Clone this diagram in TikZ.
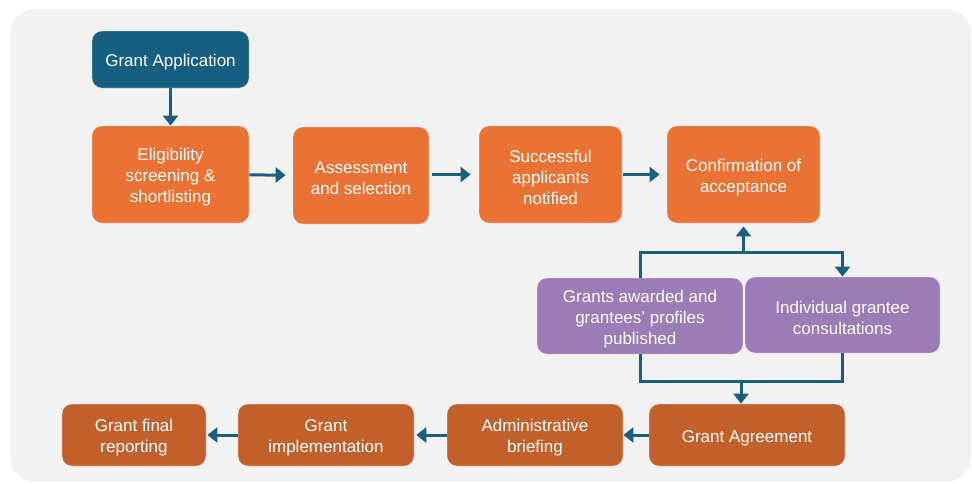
\documentclass[tikz,border=0pt]{standalone}
\usepackage{fontspec}
\setmainfont{Liberation Sans}
\usetikzlibrary{arrows.meta,calc}
\definecolor{panel}{RGB}{242,242,242}
\definecolor{tealbox}{RGB}{23,95,128}
\definecolor{orangebox}{RGB}{233,114,52}
\definecolor{darkorange}{RGB}{193,96,42}
\definecolor{purplebox}{RGB}{155,124,182}
\definecolor{arrowcol}{RGB}{26,95,126}
\tikzset{
  box/.style={rounded corners=10pt, inner sep=0pt, draw=white, draw opacity=0.35, line width=0.8pt},
  txt/.style={text=white, align=center, inner sep=0pt, yshift=-3pt,
    font=\fontsize{17}{21}\selectfont},
  topbox/.style={box, fill=tealbox},
  obox/.style={box, fill=orangebox},
  dbox/.style={box, fill=darkorange},
  pbox/.style={box, fill=purplebox},
  conn/.style={draw=arrowcol, line width=3pt},
  arr/.style={conn, -{Triangle[width=15pt,length=10pt]}}
}
\begin{document}
\begin{tikzpicture}[x=1pt,y=-1pt]
\useasboundingbox (0,0) rectangle (972,483);
\fill[panel, rounded corners=25pt] (10,9) rectangle (971,482);
% top row
\node[topbox, minimum width=157pt, minimum height=57pt, label={[txt]center:{Grant Application}}] (app) at (170.5,59.5) {};
\node[obox, minimum width=157pt, minimum height=97pt, label={[txt]center:{Eligibility\\screening \&\\shortlisting}}] (elig) at (170.5,174.5) {};
\node[obox, minimum width=136pt, minimum height=97pt, label={[txt]center:{Assessment\\and selection}}] (assess) at (361,175.5) {};
\node[obox, minimum width=143pt, minimum height=97pt, label={[txt]center:{Successful\\applicants\\notified}}] (succ) at (550.5,174.5) {};
\node[obox, minimum width=153pt, minimum height=97pt, label={[txt]center:{Confirmation of\\acceptance}}] (conf) at (743.5,174.5) {};
% purple
\node[pbox, minimum width=206pt, minimum height=76pt, label={[txt]center:{Grants awarded and\\grantees’ profiles\\published}}] (pub) at (640,316) {};
\node[pbox, minimum width=195pt, minimum height=76pt, label={[txt]center:{Individual grantee\\consultations}}] (ind) at (842.5,315) {};
% bottom row
\node[dbox, minimum width=196pt, minimum height=62pt, label={[txt]center:{Grant Agreement}}] (agr) at (747,435) {};
\node[dbox, minimum width=176pt, minimum height=62pt, label={[txt]center:{Administrative\\briefing}}] (adm) at (535,435) {};
\node[dbox, minimum width=176pt, minimum height=62pt, label={[txt]center:{Grant\\implementation}}] (impl) at (326,435) {};
\node[dbox, minimum width=144pt, minimum height=62pt, label={[txt]center:{Grant final\\reporting}}] (fin) at (134,435) {};
% connectors
\draw[arr] (app) -- (elig);
\draw[arr, shorten >=7pt] (elig) -- (assess);
\draw[arr, shorten <=3pt, shorten >=8pt] (assess.east |- succ.center) -- (succ);
\draw[arr, shorten <=1pt, shorten >=7pt] (succ) -- (conf);
\coordinate (jt) at (743.5,252);
\draw[conn] (pub.north) |- (jt);
\draw[arr] (jt) -| (ind.north);
\draw[arr, shorten >=3pt] (jt) -- (conf.south);
\coordinate (jb) at (741,381);
\draw[conn] (pub.south) |- (jb) -| (ind.south);
\draw[arr] (jb) -- (jb |- agr.north);
\draw[arr] (agr) -- (adm);
\draw[arr, shorten >=2pt] (adm) -- (impl);
\draw[arr, shorten >=1pt] (impl) -- (fin);
\end{tikzpicture}
\end{document}
